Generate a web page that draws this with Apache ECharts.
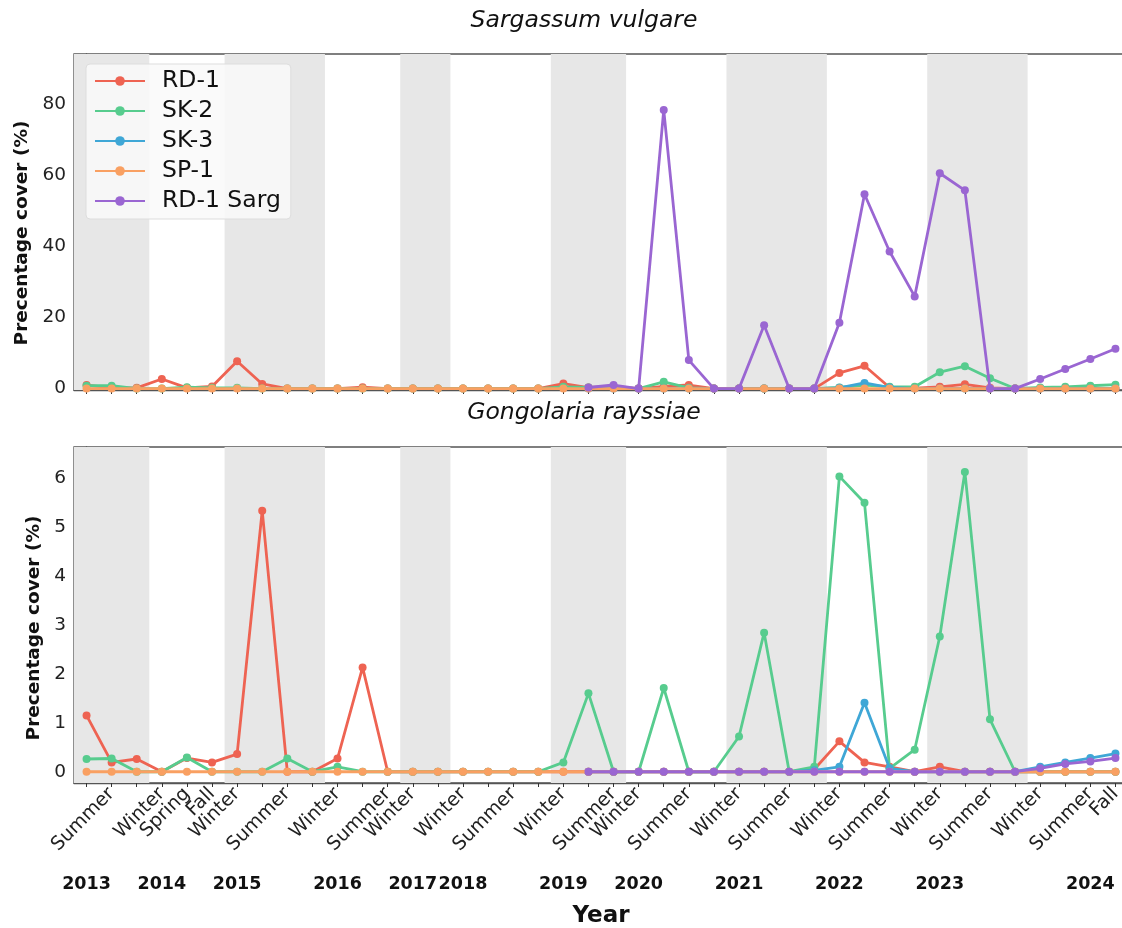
<!DOCTYPE html>
<html>
<head>
<meta charset="utf-8">
<script src="https://cdn.jsdelivr.net/npm/echarts@6/dist/echarts.min.js"></script>
<style>
  html, body { margin: 0; padding: 0; background: #fff; }
  #chart { width: 1122px; height: 928px; }
</style>
</head>
<body>
<div id="chart"></div>
<script>
// ---------- data ----------
const seasonLabels = ['', 'Summer', '', 'Winter', 'Spring', 'Fall', 'Winter', '', 'Summer', '',
  'Winter', '', 'Summer', 'Winter', '', 'Winter', '', 'Summer', '', 'Winter',
  '', 'Summer', 'Winter', '', 'Summer', '', 'Winter', '', 'Summer', '',
  'Winter', '', 'Summer', '', 'Winter', '', 'Summer', '', 'Winter', '',
  'Summer', 'Fall'];
const yearTickIdx = [0, 3, 6, 10, 13, 15, 19, 22, 26, 30, 34, 40];
const yearNames = ['2013', '2014', '2015', '2016', '2017', '2018', '2019', '2020', '2021', '2022', '2023', '2024'];
const shadedBands = [[-0.5, 2.5], [5.5, 9.5], [12.5, 14.5], [18.5, 21.5], [25.5, 29.5], [33.5, 37.5]];
const seriesNames = ['RD-1', 'SK-2', 'SK-3', 'SP-1', 'RD-1 Sarg'];
const N = null;

// Sargassum vulgare
const sargRD1 = [1.0, 0.2, 0.2, 2.7, 0.2, 0.6, 7.7, 1.3, 0, 0,
  0, 0.4, 0, 0, 0, 0, 0, 0, 0, 1.4,
  0.3, 0.6, 0, 0.6, 1.0, 0, 0, 0, 0, 0,
  4.4, 6.4, 0.3, 0.1, 0.5, 1.2, 0.2, 0, 0, 0,
  0, 0];
const sargSK2 = [0.8, 0.8, 0, 0, 0.4, 0.2, 0.2, 0, 0, 0,
  0, 0, 0, 0, 0, 0, 0, 0, 0, 0.5,
  0.3, 0.3, 0, 1.9, 0.2, 0, 0, 0, 0, 0,
  0.3, 1.0, 0.5, 0.5, 4.6, 6.3, 2.9, 0, 0.3, 0.5,
  0.8, 1.1];
const sargSK3 = [N, N, N, N, N, N, N, N, N, N,
  N, N, N, N, N, N, N, N, N, N,
  0, 0, 0, 0, 0, 0, 0, 0, 0, 0,
  0.2, 1.6, 0.3, 0, 0, 0, 0, 0, 0, 0,
  0, 0];
const sargSP1 = [0, 0, 0, 0, 0, 0, 0, 0, 0, 0,
  0, 0, 0, 0, 0, 0, 0, 0, 0, 0,
  0, 0, 0, 0, 0, 0, 0, 0, 0, 0,
  0, 0, 0, 0, 0, 0, 0, 0, 0, 0,
  0, 0];
const sargRD1Sarg = [N, N, N, N, N, N, N, N, N, N,
  N, N, N, N, N, N, N, N, N, N,
  0.3, 1.0, 0, 78.3, 8.0, 0, 0, 17.8, 0, 0,
  18.5, 54.6, 38.5, 25.9, 60.5, 55.7, 0, 0, 2.7, 5.5,
  8.3, 11.2];

// Gongolaria rayssiae
const gongRD1 = [1.15, 0.19, 0.26, 0, 0.28, 0.19, 0.36, 5.33, 0, 0,
  0.27, 2.13, 0, 0, 0, 0, 0, 0, 0, 0,
  0, 0, 0, 0, 0, 0, 0, 0, 0, 0.05,
  0.62, 0.19, 0.1, 0, 0.1, 0, 0, 0, 0, 0,
  0, 0];
const gongSK2 = [0.26, 0.27, 0, 0, 0.29, 0, 0, 0, 0.27, 0,
  0.1, 0, 0, 0, 0, 0, 0, 0, 0, 0.19,
  1.6, 0, 0, 1.71, 0, 0, 0.72, 2.84, 0, 0.1,
  6.03, 5.49, 0.07, 0.45, 2.76, 6.12, 1.07, 0, 0, 0,
  0, 0];
const gongSK3 = [N, N, N, N, N, N, N, N, N, N,
  N, N, N, N, N, N, N, N, N, N,
  0, 0, 0, 0, 0, 0, 0, 0, 0, 0.03,
  0.1, 1.41, 0.07, 0, 0, 0, 0, 0, 0.1, 0.19,
  0.28, 0.37];
const gongSP1 = [0, 0, 0, 0, 0, 0, 0, 0, 0, 0,
  0, 0, 0, 0, 0, 0, 0, 0, 0, 0,
  0, 0, 0, 0, 0, 0, 0, 0, 0, 0,
  0, 0, 0, 0, 0, 0, 0, 0, 0, 0,
  0, 0];
const gongRD1Sarg = [N, N, N, N, N, N, N, N, N, N,
  N, N, N, N, N, N, N, N, N, N,
  0, 0, 0, 0, 0, 0, 0, 0, 0, 0,
  0, 0, 0, 0, 0, 0, 0, 0, 0.07, 0.16,
  0.21, 0.28];

const topYTicks = [0, 20, 40, 60, 80];
const bottomYTicks = [0, 1, 2, 3, 4, 5, 6];

// ---------- styling ----------
const colors = ['#ee6352', '#57cc8e', '#3fa7d6', '#f9a062', '#9a66d2'];
const FONT = 'DejaVu Sans';
const idx = seasonLabels.map((_, i) => i);
const lastIdx = idx.length - 1;
// labelled positions (the last one is drawn on its own helper axis so the
// automatic min/max overlap check never drops a label)
const labelledIdx = idx.filter(i => seasonLabels[i] !== '' && i !== lastIdx);

function pairs(arr) { return arr.map((v, i) => [i, v]); }

function panelSeries(dataSets, gi) {
  return dataSets.map((d, k) => {
    const s = {
      name: seriesNames[k],
      type: 'line',
      xAxisIndex: gi === 0 ? 0 : 1,
      yAxisIndex: gi,
      data: pairs(d),
      symbol: 'circle',
      symbolSize: 8,
      connectNulls: false,
      lineStyle: { width: 2.8, color: colors[k] },
      itemStyle: { color: colors[k] },
      emphasis: { disabled: true },
      animation: false,
      z: 3 + k
    };
    if (k === 0) {
      s.markArea = {
        silent: true,
        itemStyle: { color: '#e7e7e7' },
        data: shadedBands.map(b => [{ xAxis: b[0] }, { xAxis: b[1] }])
      };
    }
    return s;
  });
}

const xBase = {
  type: 'value', min: -0.5, max: lastIdx + 0.5,
  splitLine: { show: false },
  axisLine: { show: true, onZero: false, lineStyle: { color: '#555', width: 1.3 } },
  axisTick: { show: true, length: 4, customValues: idx, lineStyle: { color: '#333' } }
};

const seasonLabelStyle = {
  show: true, rotate: 45, margin: 8,
  hideOverlap: false, showMaxLabel: true, showMinLabel: true,
  fontFamily: FONT, fontSize: 19, color: '#222',
  formatter: v => seasonLabels[Math.round(v)] || ''
};

const yName = 'Precentage cover (%)';

const option = {
  animation: false,
  backgroundColor: '#ffffff',
  title: [
    { text: 'Sargassum vulgare', left: 579, top: 4, textAlign: 'center',
      textStyle: { fontFamily: FONT, fontStyle: 'italic', fontWeight: 'normal', fontSize: 23.5, color: '#111' } },
    { text: 'Gongolaria rayssiae', left: 579, top: 396, textAlign: 'center',
      textStyle: { fontFamily: FONT, fontStyle: 'italic', fontWeight: 'normal', fontSize: 23.5, color: '#111' } }
  ],
  legend: {
    orient: 'vertical', left: 86, top: 64,
    data: seriesNames,
    padding: [5, 10, 6, 8],
    itemGap: 6, itemWidth: 50, itemHeight: 12,
    backgroundColor: 'rgba(249,249,249,0.85)',
    borderColor: '#dddddd', borderWidth: 1, borderRadius: 4,
    textStyle: { fontFamily: FONT, fontSize: 23.5, color: '#111', lineHeight: 23.5, padding: [0, 0, 0, 12] }
  },
  grid: [
    { left: 74, top: 54, width: 1054, height: 336, outerBoundsMode: 'none', containLabel: false,
      show: true, borderColor: '#555', borderWidth: 1.3, backgroundColor: 'transparent' },
    { left: 74, top: 447, width: 1054, height: 336, outerBoundsMode: 'none', containLabel: false,
      show: true, borderColor: '#555', borderWidth: 1.3, backgroundColor: 'transparent' }
  ],
  xAxis: [
    Object.assign({}, xBase, { gridIndex: 0, position: 'bottom', axisLabel: { show: false } }),
    Object.assign({}, xBase, {
      gridIndex: 1, position: 'bottom',
      axisLabel: Object.assign({}, seasonLabelStyle, { customValues: labelledIdx })
    }),
    {
      type: 'value', gridIndex: 1, position: 'bottom', min: -0.5, max: lastIdx + 0.5,
      splitLine: { show: false }, axisLine: { show: false }, axisTick: { show: false },
      axisLabel: Object.assign({}, seasonLabelStyle, { customValues: [lastIdx] })
    },
    {
      type: 'value', gridIndex: 1, position: 'bottom', min: -0.5, max: lastIdx + 0.5,
      splitLine: { show: false }, axisLine: { show: false }, axisTick: { show: false },
      axisLabel: {
        show: true, margin: 92, customValues: yearTickIdx, hideOverlap: false,
        fontFamily: FONT, fontSize: 17.5, fontWeight: 'bold', color: '#111',
        formatter: v => yearNames[yearTickIdx.indexOf(Math.round(v))] || ''
      },
      name: 'Year', nameLocation: 'middle', nameGap: 122,
      nameTextStyle: { fontFamily: FONT, fontSize: 23, fontWeight: 'bold', color: '#111' }
    }
  ],
  yAxis: [
    {
      type: 'value', gridIndex: 0, min: -0.4, max: 94,
      splitLine: { show: false },
      axisLine: { show: true, lineStyle: { color: '#555', width: 1.3 } },
      axisTick: { show: true, length: 4, customValues: topYTicks, lineStyle: { color: '#333' } },
      axisLabel: { customValues: topYTicks, margin: 8, fontFamily: FONT, fontSize: 18.5, color: '#222' },
      name: yName, nameLocation: 'middle', nameGap: 40,
      nameTextStyle: { fontFamily: FONT, fontSize: 18.5, fontWeight: 'bold', color: '#111', padding: [0, 22, 0, 0] }
    },
    {
      type: 'value', gridIndex: 1, min: -0.23, max: 6.63,
      splitLine: { show: false },
      axisLine: { show: true, lineStyle: { color: '#555', width: 1.3 } },
      axisTick: { show: true, length: 4, customValues: bottomYTicks, lineStyle: { color: '#333' } },
      axisLabel: { customValues: bottomYTicks, margin: 8, fontFamily: FONT, fontSize: 18.5, color: '#222' },
      name: yName, nameLocation: 'middle', nameGap: 26,
      nameTextStyle: { fontFamily: FONT, fontSize: 18.5, fontWeight: 'bold', color: '#111', padding: [0, 26, 0, 0] }
    }
  ],
  series: [].concat(
    panelSeries([sargRD1, sargSK2, sargSK3, sargSP1, sargRD1Sarg], 0),
    panelSeries([gongRD1, gongSK2, gongSK3, gongSP1, gongRD1Sarg], 1)
  )
};

const chart = echarts.init(document.getElementById('chart'), null, { renderer: 'canvas' });
chart.setOption(option);
</script>
</body>
</html>
